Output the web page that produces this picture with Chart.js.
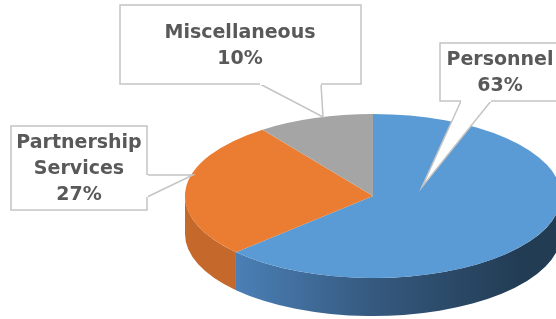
<!DOCTYPE html>
<html>
<head>
<meta charset="utf-8">
<style>
  html, body { margin: 0; padding: 0; background: #fff; overflow: hidden; }
  canvas { display: block; }
</style>
<script src="https://cdn.jsdelivr.net/npm/chart.js@4/dist/chart.umd.min.js"></script>
</head>
<body>
<canvas id="budget" width="556" height="319"></canvas>
<script>
// chart data
const categories = ['Personnel', 'Partnership Services', 'Miscellaneous'];
const shares = [63, 27, 10];

// colours of the top face and of the side wall
const topColors = ['#5b9bd5', '#ea7d32', '#a5a5a5'];
const sideColors = ['blue', '#c5682b', '#8a8a8a'];

// where the tilted pie sits on the page
const pieView = { cx: 373, cy: 196, rx: 188, ry: 82, depth: 38 };

// callout boxes (layout only) : box rect, text centre, pointer polygon
const callouts = [
    { box: [440, 43, 130, 58], textX: 500, textY: 60, lineH: 26,
      pointer: [[461, 101], [422, 187], [491, 101]] },
    { box: [11, 126, 136, 84], textX: 79, textY: 143, lineH: 26,
      pointer: [[147, 175], [193, 175], [147, 197]] },
    { box: [120, 5, 241, 79], textX: 240, textY: 33, lineH: 26,
      pointer: [[260, 84], [323, 117], [321, 84]] }
];

const tiltPlugin = {
    id: 'tilt',
    beforeDatasetsDraw(chart) {
        const ctx = chart.ctx;
        const arcs = chart.getDatasetMeta(0).data;
        const v = pieView;

        // side walls first, only the front half (0..PI) can be seen
        arcs.forEach((arc, i) => {
            const s = Math.max(arc.startAngle, 0);
            const e = Math.min(arc.endAngle, Math.PI);
            if (e <= s) return;
            ctx.save();
            ctx.beginPath();
            ctx.ellipse(v.cx, v.cy, v.rx, v.ry, 0, s, e);
            ctx.lineTo(v.cx + v.rx * Math.cos(e), v.cy + v.depth + v.ry * Math.sin(e));
            ctx.ellipse(v.cx, v.cy + v.depth, v.rx, v.ry, 0, e, s, true);
            ctx.closePath();
            if (sideColors[i] === 'blue') {
                const g = ctx.createLinearGradient(220, 0, 520, 0);
                g.addColorStop(0, '#4d84bc');
                g.addColorStop(0.5, '#365a80');
                g.addColorStop(1, '#223c54');
                ctx.fillStyle = g;
            } else {
                ctx.fillStyle = sideColors[i];
            }
            ctx.fill();
            ctx.restore();
        });

        // squash the round pie into the ellipse of the top face
        const a = arcs[0];
        const r = a.outerRadius;
        ctx.save();
        ctx.translate(v.cx, v.cy);
        ctx.scale(v.rx / r, v.ry / r);
        ctx.translate(-a.x, -a.y);
    },
    afterDatasetsDraw(chart) {
        chart.ctx.restore();
    },
    afterDraw(chart) {
        const ctx = chart.ctx;
        const total = shares.reduce((a, b) => a + b, 0);
        callouts.forEach((c, i) => {
            const [x, y, w, h] = c.box;
            ctx.save();
            ctx.fillStyle = '#ffffff';
            ctx.strokeStyle = '#c4c4c4';
            ctx.lineWidth = 1.5;
            // pointer wedge
            ctx.beginPath();
            ctx.moveTo(c.pointer[0][0], c.pointer[0][1]);
            ctx.lineTo(c.pointer[1][0], c.pointer[1][1]);
            ctx.lineTo(c.pointer[2][0], c.pointer[2][1]);
            ctx.fill();
            ctx.stroke();
            // box
            ctx.fillRect(x, y, w, h);
            ctx.strokeRect(x, y, w, h);
            // cover the box edge where the wedge joins it
            ctx.beginPath();
            ctx.moveTo(c.pointer[0][0], c.pointer[0][1]);
            ctx.lineTo(c.pointer[2][0], c.pointer[2][1]);
            ctx.strokeStyle = '#ffffff';
            ctx.lineWidth = 2;
            ctx.stroke();

            // text
            const lines = categories[i].split(' ');
            lines.push(Math.round(shares[i] / total * 100) + '%');
            ctx.fillStyle = '#595959';
            ctx.font = 'bold 19px "DejaVu Sans", sans-serif';
            ctx.textAlign = 'center';
            ctx.textBaseline = 'middle';
            lines.forEach((t, k) => ctx.fillText(t, c.textX, c.textY + k * c.lineH));
            ctx.restore();
        });
    }
};

new Chart(document.getElementById('budget'), {
    type: 'pie',
    data: {
        labels: categories,
        datasets: [{
            data: shares,
            backgroundColor: topColors,
            borderWidth: 0,
            clip: false
        }]
    },
    options: {
        responsive: false,
        animation: false,
        events: [],
        layout: { padding: 10 },
        plugins: {
            legend: { display: false },
            tooltip: { enabled: false }
        }
    },
    plugins: [tiltPlugin]
});
</script>
</body>
</html>
